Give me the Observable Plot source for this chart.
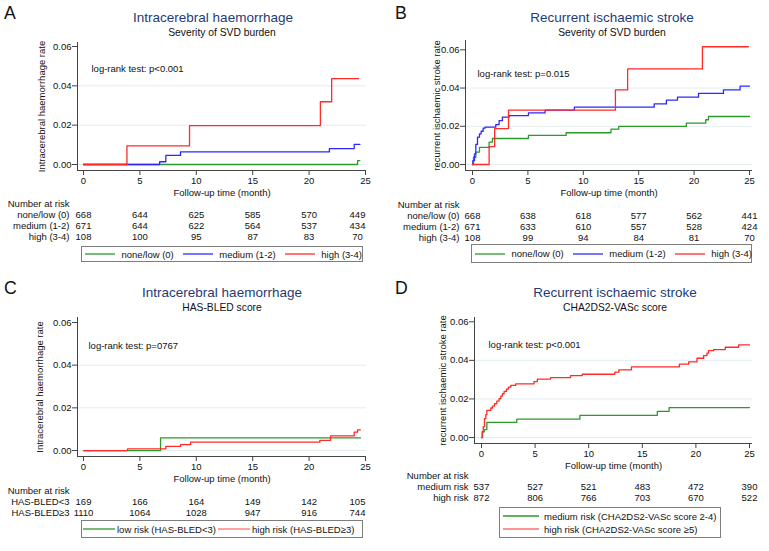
<!DOCTYPE html>
<html>
<head>
<meta charset="utf-8">
<script src="https://cdn.jsdelivr.net/npm/d3@7"></script>
<script src="https://cdn.jsdelivr.net/npm/@observablehq/plot@0.6"></script>
<style>
html, body { margin: 0; padding: 0; background: #fff; }
body { font-family: "Liberation Sans", Arial, Helvetica, sans-serif; }
#fig { position: relative; width: 769px; height: 551px; overflow: hidden; background: #fff; }
.abs { position: absolute; white-space: nowrap; line-height: 1; }
.letter { font-size: 17.7px; color: #111; }
.title { font-size: 13.5px; color: #1f3b73; transform: translateX(-50%); }
.sub { font-size: 10.3px; color: #111; transform: translateX(-50%); }
.legend { position: absolute; box-sizing: border-box; border: 1px solid #7d7d7d; font-size: 9.5px; color: #111; display: flex; }
.item { display: flex; align-items: center; white-space: nowrap; }
.item svg { display: block; flex: none; }
</style>
</head>
<body>
<div id="fig"></div>
<script>
// ---------- shared ticks ----------
const xTicks = [0, 5, 10, 15, 20, 25];
const yTicks = [0, 0.02, 0.04, 0.06];
const gridTicks = [0, 0.02, 0.04];
const riskMonths = [0, 5, 10, 15, 20, 25];

// ---------- Panel A: ICH by SVD burden ----------
const aLowT  = [0, 24.3, 24.5];
const aLowV  = [0, 0.002, 0.002];
const aMedT  = [0, 6.75, 7.3, 8.6, 21.8, 24.0, 24.5];
const aMedV  = [0, 0.0014, 0.0046, 0.0064, 0.0081, 0.0102, 0.0102];
const aHighT = [0, 3.85, 9.4, 21.0, 22.0, 24.4];
const aHighV = [0, 0.0095, 0.0198, 0.0319, 0.0437, 0.0437];
const aGroups = ["none/low (0)", "medium (1-2)", "high (3-4)"];
const aRiskLow  = [668, 644, 625, 585, 570, 449];
const aRiskMed  = [671, 644, 622, 564, 537, 434];
const aRiskHigh = [108, 100, 95, 87, 83, 70];

// ---------- Panel B: recurrent stroke by SVD burden ----------
const bLowT  = [0, 0.09, 0.3, 0.63, 1.5, 1.8, 5.05, 8.45, 12.5, 13.2, 19.3, 21.05, 21.3, 25];
const bLowV  = [0, 0.0038, 0.0065, 0.009, 0.0117, 0.0136, 0.0152, 0.0166, 0.0185, 0.0199, 0.0216, 0.0234, 0.0251, 0.0251];
const bMedT  = [0, 0.03, 0.18, 0.3, 0.45, 0.63, 0.78, 0.96, 1.14, 2.1, 2.4, 2.7, 3.3, 5.05, 6.55, 9.2, 16.4, 17.5, 18.5, 20.4, 22.65, 24.15, 25];
const bMedV  = [0, 0.002, 0.0056, 0.0105, 0.0143, 0.016, 0.0174, 0.019, 0.0195, 0.0209, 0.023, 0.0248, 0.0256, 0.027, 0.0284, 0.030, 0.0317, 0.0337, 0.0352, 0.0372, 0.039, 0.041, 0.041];
const bHighT = [0, 1.5, 2.0, 3.25, 12.9, 14.0, 20.75, 24.9];
const bHighV = [0, 0.0094, 0.0188, 0.0284, 0.039, 0.050, 0.0616, 0.0616];
const bGroups = ["none/low (0)", "medium (1-2)", "high (3-4)"];
const bRiskLow  = [668, 638, 618, 577, 562, 441];
const bRiskMed  = [671, 633, 610, 557, 528, 424];
const bRiskHigh = [108, 99, 94, 84, 81, 70];

// ---------- Panel C: ICH by HAS-BLED ----------
const cLowT  = [0, 6.83, 24.55];
const cLowV  = [0, 0.0059, 0.0059];
const cHighT = [0, 3.9, 7.3, 8.6, 9.5, 20.95, 21.9, 24.0, 24.3, 24.55];
const cHighV = [0, 0.0008, 0.0019, 0.0028, 0.0039, 0.0048, 0.0069, 0.0086, 0.0097, 0.0097];
const cGroups = ["HAS-BLED<3", "HAS-BLED≥3"];
const cRiskLow  = [169, 166, 164, 149, 142, 105];
const cRiskHigh = [1110, 1064, 1028, 947, 916, 744];
const cLegend = ["low risk (HAS-BLED<3)", "high risk (HAS-BLED≥3)"];

// ---------- Panel D: recurrent stroke by CHA2DS2-VASc ----------
const dMedT  = [0, 0.1, 0.25, 0.5, 3.29, 9.18, 16.4, 17.5, 25];
const dMedV  = [0, 0.0029, 0.0041, 0.0079, 0.0095, 0.0115, 0.0136, 0.0155, 0.0155];
const dHighT = [0, 0.06, 0.16, 0.28, 0.4, 0.5, 0.87, 1.02, 1.21, 1.43, 1.64, 1.8, 1.95, 2.11, 2.33, 2.51, 2.73, 3.19, 4.9, 5.21, 6.45, 8.31, 9.4, 12.44, 12.81, 13.99, 18.46, 19.32, 20.1, 20.72, 21.03, 21.18, 21.65, 22.74, 23.98, 25];
const dHighV = [0, 0.003, 0.0055, 0.0098, 0.0119, 0.0141, 0.0153, 0.0163, 0.0175, 0.0189, 0.0201, 0.0215, 0.0227, 0.0239, 0.0251, 0.0261, 0.027, 0.0278, 0.029, 0.0303, 0.031, 0.0321, 0.0328, 0.0339, 0.0351, 0.0366, 0.038, 0.0392, 0.0411, 0.0425, 0.0438, 0.045, 0.0456, 0.0468, 0.048, 0.048];
const dGroups = ["medium risk", "high risk"];
const dRiskMed  = [537, 527, 521, 483, 472, 390];
const dRiskHigh = [872, 806, 766, 703, 670, 522];
const dLegend = ["medium risk (CHA2DS2-VASc score 2-4)", "high risk (CHA2DS2-VASc score ≥5)"];

// ---------- styles ----------
const FONT = "'Liberation Sans', Arial, Helvetica, sans-serif";
const AXIS = "#444";
const GRID = "#e3edf0";
const TXT = "#111";
const GREEN = "#2a9a2a";
const BLUE = "#2a2aff";
const RED = "#ff2a2a";
const RED_LEG = "#ff6f6f";
const XLABEL = "Follow-up time (month)";
const SVGNS = "http://www.w3.org/2000/svg";

const fig = document.getElementById("fig");
function put(el, left, top) {
  el.style.position = "absolute";
  el.style.left = left + "px";
  el.style.top = top + "px";
  fig.appendChild(el);
  return el;
}
function textDiv(text, cls, left, top) {
  const d = document.createElement("div");
  d.className = "abs " + cls;
  d.textContent = text;
  return put(d, left, top);
}
const plotStyle = {fontFamily: FONT, fontSize: "9.5px", color: TXT, background: "transparent", overflow: "visible"};

function drawPanel(p) {
  textDiv(p.letter, "letter", p.letterX, p.oy + 5);
  textDiv(p.title, "title", p.titleX, p.oy + 11.1);
  textDiv(p.subtitle, "sub", p.subX, p.oy + 28);

  const mb = 32;
  const chart = Plot.plot({
    width: p.width,
    height: p.frameBottom + mb,
    marginLeft: p.frameLeft,
    marginRight: p.width - p.frameRight,
    marginTop: p.frameTop,
    marginBottom: mb,
    style: plotStyle,
    x: {domain: p.xd},
    y: {domain: p.yd},
    marks: [
      Plot.ruleY(gridTicks, {stroke: GRID, strokeWidth: 1}),
      Plot.axisX({ticks: xTicks, tickSize: 5, tickPadding: 2, stroke: AXIS, fill: TXT,
        label: XLABEL, labelAnchor: "center", labelOffset: 25.5, labelArrow: "none"}),
      Plot.axisY({ticks: yTicks, tickSize: 5, tickPadding: 1, stroke: AXIS, fill: TXT,
        tickFormat: d3.format(".2f"), label: p.ylabel, labelAnchor: "center", labelOffset: p.ylabelOffset, labelArrow: "none"}),
      Plot.ruleX([p.xd[0]], {stroke: AXIS}),
      Plot.ruleY([p.yd[0]], {stroke: AXIS}),
      ...p.series.map(s => Plot.line(s.t.map((t, i) => [t, s.v[i]]), {curve: "step-after", stroke: s.color, strokeWidth: 1.3})),
      Plot.text([p.logrank], {text: d => d, frameAnchor: "top-left", dx: p.lrDx, dy: p.lrDy, textAnchor: "start", fill: TXT})
    ]
  });
  put(chart, p.ox, p.oy);

  // number at risk table
  const rows = ["Number at risk", ...p.groups];
  const riskData = p.groups.flatMap((g, gi) => riskMonths.map((m, mi) => ({g, m, n: p.risk[gi][mi]})));
  const tbl = Plot.plot({
    width: p.width,
    height: rows.length * 11,
    marginLeft: p.frameLeft,
    marginRight: p.width - p.frameRight,
    marginTop: 0,
    marginBottom: 0,
    style: plotStyle,
    x: {domain: p.xd, axis: null},
    y: {type: "band", domain: rows, padding: 0},
    marks: [
      Plot.axisY({tickSize: 0, tickPadding: p.rowPad, label: null, fill: TXT}),
      Plot.text(riskData, {filter: d => d.m < 25, x: "m", y: "g", text: d => String(d.n), fill: TXT}),
      Plot.text(riskData, {filter: d => d.m === 25, x: "m", y: "g", text: d => String(d.n), fill: TXT, dx: p.lastDx})
    ]
  });
  put(tbl, p.ox, p.riskTop);

  // legend
  const lg = p.legend;
  const box = document.createElement("div");
  box.className = "legend";
  Object.assign(box.style, {
    width: lg.w + "px", height: lg.h + "px",
    flexDirection: lg.column ? "column" : "row",
    alignItems: lg.column ? "flex-start" : "center",
    justifyContent: lg.column ? "center" : "flex-start",
    paddingLeft: lg.pad + "px"
  });
  lg.labels.forEach((lab, i) => {
    const item = document.createElement("div");
    item.className = "item";
    if (lg.column) item.style.height = "13px";
    else if (i < lg.labels.length - 1) item.style.marginRight = lg.gapItem + "px";
    const sw = document.createElementNS(SVGNS, "svg");
    sw.setAttribute("width", lg.lineLen);
    sw.setAttribute("height", 4);
    const ln = document.createElementNS(SVGNS, "line");
    ln.setAttribute("x1", 0); ln.setAttribute("x2", lg.lineLen);
    ln.setAttribute("y1", 2); ln.setAttribute("y2", 2);
    ln.setAttribute("stroke", lg.colors[i]);
    ln.setAttribute("stroke-width", 1.3);
    sw.appendChild(ln);
    const tx = document.createElement("span");
    tx.textContent = lab;
    tx.style.marginLeft = lg.gapLine + "px";
    item.appendChild(sw);
    item.appendChild(tx);
    box.appendChild(item);
  });
  put(box, lg.x, lg.y);
}

// ---------- panels ----------
drawPanel({
  letter: "A", letterX: 4, ox: 0, oy: 0, width: 385,
  title: "Intracerebral haemorrhage", titleX: 213, subtitle: "Severity of SVD burden", subX: 222,
  frameLeft: 77, frameRight: 366, frameTop: 42, frameBottom: 170,
  xd: [-0.532, 25.089], yd: [-0.00305, 0.06203],
  ylabel: "Intracerebral haemorrhage rate", ylabelOffset: 39.3,
  series: [
    {t: aLowT, v: aLowV, color: GREEN},
    {t: aMedT, v: aMedV, color: BLUE},
    {t: aHighT, v: aHighV, color: RED}
  ],
  logrank: "log-rank test: p<0.001", lrDx: 14, lrDy: 22.3,
  groups: aGroups, risk: [aRiskLow, aRiskMed, aRiskHigh], riskTop: 198.2, rowPad: 8, lastDx: -8,
  legend: {x: 81, y: 246, w: 282, h: 16, pad: 3, lineLen: 30, gapLine: 6.5, gapItem: 9,
    labels: aGroups, colors: [GREEN, BLUE, RED]}
});

drawPanel({
  letter: "B", letterX: 395, ox: 385, oy: 0, width: 384,
  title: "Recurrent ischaemic stroke", titleX: 612, subtitle: "Severity of SVD burden", subX: 612,
  frameLeft: 80, frameRight: 367, frameTop: 40, frameBottom: 170,
  xd: [-0.632, 25.271], yd: [-0.00314, 0.06487],
  ylabel: "recurrent ischaemic stroke rate", ylabelOffset: 32.5,
  series: [
    {t: bLowT, v: bLowV, color: GREEN},
    {t: bMedT, v: bMedV, color: BLUE},
    {t: bHighT, v: bHighV, color: RED}
  ],
  logrank: "log-rank test: p=0.015", lrDx: 12, lrDy: 30,
  groups: bGroups, risk: [bRiskLow, bRiskMed, bRiskHigh], riskTop: 198.5, rowPad: 6, lastDx: 0,
  legend: {x: 471, y: 244, w: 281, h: 19, pad: 3, lineLen: 30, gapLine: 6.5, gapItem: 9,
    labels: bGroups, colors: [GREEN, BLUE, RED]}
});

drawPanel({
  letter: "C", letterX: 4, ox: 0, oy: 275, width: 385,
  title: "Intracerebral haemorrhage", titleX: 222, subtitle: "HAS-BLED score", subX: 222,
  frameLeft: 77, frameRight: 366, frameTop: 42, frameBottom: 181,
  xd: [-0.532, 25.089], yd: [-0.0028, 0.06234],
  ylabel: "Intracerebral haemorrhage rate", ylabelOffset: 41,
  series: [
    {t: cLowT, v: cLowV, color: GREEN},
    {t: cHighT, v: cHighV, color: RED}
  ],
  logrank: "log-rank test: p=0767", lrDx: 11, lrDy: 24.7,
  groups: cGroups, risk: [cRiskLow, cRiskHigh], riskTop: 484.8, rowPad: 8, lastDx: -8,
  legend: {x: 81, y: 520, w: 282, h: 18, pad: 1, lineLen: 32, gapLine: 2, gapItem: 2,
    labels: cLegend, colors: [GREEN, RED_LEG]}
});

drawPanel({
  letter: "D", letterX: 395, ox: 385, oy: 275, width: 384,
  title: "Recurrent ischaemic stroke", titleX: 615, subtitle: "CHA2DS2-VASc score", subX: 615,
  frameLeft: 89, frameRight: 367, frameTop: 42, frameBottom: 168,
  xd: [-0.653, 25.28], yd: [-0.0031, 0.06222],
  ylabel: "recurrent ischaemic stroke rate", ylabelOffset: 35.7,
  series: [
    {t: dMedT, v: dMedV, color: GREEN},
    {t: dHighT, v: dHighV, color: RED}
  ],
  logrank: "log-rank test: p<0.001", lrDx: 14, lrDy: 24,
  groups: dGroups, risk: [dRiskMed, dRiskHigh], riskTop: 470, rowPad: 6, lastDx: 0,
  legend: {x: 499, y: 507, w: 222, h: 31, pad: 3, lineLen: 36, gapLine: 5, gapItem: 0, column: true,
    labels: dLegend, colors: [GREEN, RED_LEG]}
});
</script>
</body>
</html>
